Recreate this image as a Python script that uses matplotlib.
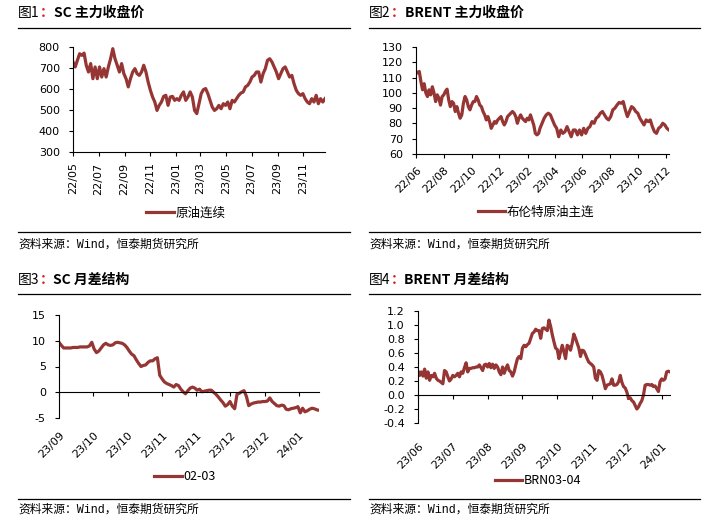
import numpy as np
import pandas as pd
import matplotlib
matplotlib.use('Agg')
import matplotlib.pyplot as plt
import matplotlib.dates as mdates
from matplotlib.lines import Line2D

plt.rcParams['font.family'] = ['DejaVu Sans', 'Noto Sans CJK SC']
plt.rcParams['axes.unicode_minus'] = False

W, H = 714, 521
LINE_COLOR = '#963634'
CJK = ['Noto Sans CJK SC', 'DejaVu Sans']
SRC_FONT = ['Liberation Mono', 'Noto Sans CJK SC']

# 图1 SC 主力收盘价 (原油连续), 2022/05 - 2023/12
sc_close = [729, 705, 737, 768, 760, 771, 713, 681, 721, 649, 705, 649, 705, 657, 697, 657,
            705, 744, 792, 744, 713, 681, 721, 673, 649, 610, 649, 681, 697, 673, 665, 681,
            713, 681, 633, 594, 562, 538, 498, 522, 538, 565, 570, 522, 562, 565, 546, 554,
            546, 570, 586, 546, 562,
            586, 562, 498, 483, 530, 578, 597, 602, 578, 546, 514, 498, 506, 522, 506, 530,
            522, 538, 506, 546, 538, 554, 570, 581, 586, 610, 617, 633, 657, 665, 681, 681,
            633, 673, 697, 737, 744, 729, 705, 681, 649, 673, 697, 705, 681, 657, 665, 625,
            594, 578, 570, 578, 554, 538, 530, 554, 538, 570, 530, 554, 538, 554]
sc_start, sc_end = '2022-05-01', '2023-12-23'

# 图2 BRENT 主力收盘价 (布伦特原油主连), 2022/06 - 2023/12
brent_a = [114, 113, 114, 107.5, 102, 106, 100, 97.6, 102, 98.7, 104, 100, 94.3, 98.7, 96.5,
           92, 97.6, 98.7, 101, 102.4, 95.4, 91, 94.3, 93.2, 87.8, 91, 86.7, 83.4, 85.6, 93.2,
           97.6, 95.4, 91, 88.9, 92, 94.3, 94.3, 97.6, 95.4, 92, 91, 87.8, 85.6, 82.3, 84.5,
           81.2, 76.8, 79, 81.2, 80.1, 82.3, 83.4, 84.5, 81.2, 79, 81.2, 84.5, 85.6, 86.7,
           87.8, 86.7, 84.5, 80.1, 83.4, 85.6, 83.4, 82.3, 81.2, 83.4, 82.3, 85.6, 82.3, 79,
           73.5, 72.5, 73.5]
brent_b = [76.8, 80.1, 83.4, 85.6, 86.7, 85.6, 82.3, 79, 76.8, 71.3, 75.7, 73.5, 74.6, 77.9,
           74.6, 71.3, 75.7, 75.7, 72.5, 75.7, 72.5, 76.8, 73.5, 76.8, 77.9, 81.2, 80.1, 83.4,
           84.5, 86.7, 87.8, 85.6, 83.4, 82.3, 84.5, 88.9, 90, 92, 93.7, 93.2, 94.3, 88.9,
           84.5, 87.8, 91, 90, 87.8, 86.7, 83.4, 81.2, 79, 82.3, 81.2, 82.3, 77.9, 74.6, 73.5,
           76.8, 77.9, 80.1, 79, 76.8, 75.7]
brent_a_span = ('2022-06-01', '2023-02-25')
brent_b_span = ('2023-02-28', '2023-12-08')

# 图3 SC 月差结构 (02-03)
sc_spread = [9.7, 9.1, 8.6, 8.6, 8.6, 8.6, 8.7, 8.7, 8.7, 8.8, 8.8, 8.8, 8.8, 9.0, 9.7, 8.4,
             7.7, 8.0, 8.6, 9.2, 9.5, 9.2, 9.1, 9.2, 9.6, 9.7, 9.6, 9.5, 9.2, 8.7, 8.0, 7.4,
             7.1, 6.3, 5.6, 5.0, 5.2, 5.3, 5.8, 6.1, 6.1, 6.5, 6.7, 3.3, 2.6, 2.0, 1.7, 1.5,
             1.3, 1.0, 1.5, 1.3, 0.6, 0.1,
             -0.3, 0.3, 0.8, 1.0, 0.8, 0.4, 0.6, 0.1, 0.2, 0.3, 0.4, 0.4, 0.0, -0.4, -0.9,
             -1.5, -2.0, -2.7, -2.4, -1.8, -2.7, -3.2, -0.4, -0.2, 0.1, 0.3, -0.8, -2.6, -2.3,
             -2.1, -2.0, -1.9, -1.9, -1.8, -1.8, -1.7, -1.1, -1.8, -2.2, -2.6, -2.7, -2.5,
             -2.6, -3.3, -3.4, -3.2, -3.1, -3.0, -2.8, -4.0, -3.1, -3.8, -3.6, -3.3, -3.1,
             -3.2, -3.4, -3.5]
sc_spread_ticks = ['23/09', '23/10', '23/10', '23/11', '23/11', '23/12', '23/12', '24/01']

# 图4 BRENT 月差结构 (BRN03-04)
brn_spread = [0.34, 0.28, 0.33, 0.27, 0.37, 0.24, 0.33, 0.21, 0.28, 0.26, 0.31, 0.24, 0.21,
              0.20, 0.18, 0.16, 0.35, 0.33, 0.26, 0.20, 0.23, 0.28, 0.26, 0.28, 0.31, 0.26,
              0.33, 0.31, 0.39, 0.46, 0.33, 0.38, 0.38, 0.39, 0.39, 0.40, 0.40, 0.43, 0.39,
              0.35, 0.43, 0.44, 0.40, 0.45, 0.39, 0.44, 0.38, 0.43, 0.40, 0.33, 0.29, 0.40,
              0.31, 0.38, 0.43, 0.35, 0.33, 0.27, 0.33, 0.43, 0.52, 0.55, 0.52, 0.67, 0.71,
              0.69, 0.72, 0.74, 0.81, 0.88, 0.90, 0.94, 0.92, 0.92, 0.81, 0.95, 0.96,
              0.94, 0.92, 1.07, 0.98, 0.86, 0.76, 0.67, 0.65, 0.52, 0.62, 0.71, 0.62, 0.52,
              0.71, 0.69, 0.64, 0.74, 0.87, 0.81, 0.74, 0.67, 0.55, 0.64, 0.63, 0.58, 0.52,
              0.47, 0.45, 0.43, 0.40, 0.24, 0.21, 0.35, 0.33, 0.28, 0.19, 0.09, 0.14, 0.15,
              0.16, 0.23, 0.14, 0.14, 0.15, 0.19, 0.28, 0.18, 0.12, 0.10, 0.04, -0.05, -0.04,
              -0.08, -0.10, -0.15, -0.20, -0.17, -0.12, -0.08, 0.00, 0.14, 0.15, 0.15, 0.14,
              0.15, 0.12, 0.13, 0.09, 0.05, 0.19, 0.23, 0.21, 0.23, 0.33, 0.34, 0.33]
brn_spread_ticks = ['23/06', '23/07', '23/08', '23/09', '23/10', '23/11', '23/12', '24/01']

fig = plt.figure(figsize=(W / 100, H / 100), dpi=100)
renderer = fig.canvas.get_renderer()


def px_axes(l, t, r, b):
    return fig.add_axes([l / W, 1 - b / H, (r - l) / W, (b - t) / H])


def style(ax):
    for s in ['top', 'right']:
        ax.spines[s].set_visible(False)
    for s in ['left', 'bottom']:
        ax.spines[s].set_linewidth(0.8)
    ax.tick_params(direction='out', length=3, width=0.8, labelsize=8, colors='black')
    ax.tick_params(axis='y', pad=6.5)


def hline(x0, x1, y):
    fig.add_artist(Line2D([x0 / W, x1 / W], [1 - y / H, 1 - y / H],
                          transform=fig.transFigure, color='black', lw=0.9))


def title(x, y, label, name):
    # 图N + red colon + bold name, laid out one after another
    xx = x / W
    for txt, c, w in [(label, 'black', 'normal'), ('：', '#D42020', 'bold'), (name, 'black', 'bold')]:
        t = fig.text(xx, 1 - y / H, txt, color=c, fontweight=w, fontsize=10,
                     family=CJK, va='center')
        xx = t.get_window_extent(renderer).x1 / W


def legend(ax, cx, cy):
    ax.legend(loc='center', bbox_to_anchor=(cx / W, 1 - cy / H), bbox_transform=fig.transFigure,
              frameon=False, prop={'family': CJK, 'size': 9}, handlelength=2.2,
              handletextpad=0.15, borderpad=0, borderaxespad=0)


def source(x, y):
    fig.text(x / W, 1 - y / H, '资料来源：Wind，恒泰期货研究所', family=SRC_FONT,
             fontsize=8.5, va='center')


# ---- panel 1
ax1 = px_axes(73, 47, 325, 152)
sc_dates = pd.date_range(sc_start, sc_end, periods=len(sc_close))
ax1.plot(sc_dates, sc_close, color=LINE_COLOR, lw=2.3, label='原油连续')
ax1.set_ylim(300, 800)
ax1.set_yticks(range(300, 801, 100))
ax1.set_xlim(pd.Timestamp(sc_start), sc_dates[-1])
ax1.xaxis.set_major_locator(mdates.MonthLocator(bymonth=[1, 3, 5, 7, 9, 11]))
ax1.xaxis.set_major_formatter(mdates.DateFormatter('%y/%m'))
style(ax1)
ax1.tick_params(axis='x', pad=4.5)
plt.setp(ax1.get_xticklabels(), rotation=90)
legend(ax1, 186, 213)

# ---- panel 2
ax2 = px_axes(416, 47, 669, 154)
brent_dates = pd.DatetimeIndex(list(pd.date_range(*brent_a_span, periods=len(brent_a))) +
                               list(pd.date_range(*brent_b_span, periods=len(brent_b))))
ax2.plot(brent_dates, brent_a + brent_b, color=LINE_COLOR, lw=2.3, label='布伦特原油主连')
ax2.set_ylim(60, 130)
ax2.set_yticks(range(60, 131, 10))
ax2.set_xlim(pd.Timestamp(brent_a_span[0]), brent_dates[-1])
ax2.xaxis.set_major_locator(mdates.MonthLocator(bymonth=[2, 4, 6, 8, 10, 12]))
ax2.xaxis.set_major_formatter(mdates.DateFormatter('%y/%m'))
style(ax2)
ax2.tick_params(axis='x', pad=5)
plt.setp(ax2.get_xticklabels(), rotation=45, ha='right', rotation_mode='anchor')
legend(ax2, 536, 212)

# ---- panel 3
ax3 = px_axes(59, 315, 319, 418)
x3 = np.arange(len(sc_spread))
ax3.plot(x3, sc_spread, color=LINE_COLOR, lw=2.3, label='02-03')
ax3.set_ylim(-5, 15)
ax3.set_yticks([-5, 0, 5, 10, 15])
ax3.set_xlim(0, len(sc_spread) - 1)
ax3.set_xticks(np.arange(len(sc_spread_ticks)) * 14.63, sc_spread_ticks)
ax3.spines['bottom'].set_position(('data', 0))
style(ax3)
ax3.tick_params(axis='x', pad=24)
plt.setp(ax3.get_xticklabels(), rotation=45, ha='right', rotation_mode='anchor')
legend(ax3, 185, 477)

# ---- panel 4
ax4 = px_axes(418, 311, 670, 423)
x4 = np.arange(len(brn_spread))
ax4.plot(x4, brn_spread, color=LINE_COLOR, lw=2.3, label='BRN03-04')
ax4.set_ylim(-0.4, 1.2)
ax4.set_yticks([-0.4, -0.2, 0.0, 0.2, 0.4, 0.6, 0.8, 1.0, 1.2])
ax4.set_yticklabels(['-0.4', '-0.2', '0.0', '0.2', '0.4', '0.6', '0.8', '1.0', '1.2'])
ax4.set_xlim(0, len(brn_spread) - 1)
ax4.set_xticks(np.arange(len(brn_spread_ticks)) * 21.0, brn_spread_ticks)
ax4.spines['bottom'].set_position(('data', 0))
style(ax4)
ax4.tick_params(axis='x', pad=30)
plt.setp(ax4.get_xticklabels(), rotation=45, ha='right', rotation_mode='anchor')
legend(ax4, 538, 481)

# ---- frames and texts
title(18, 13, '图1', 'SC 主力收盘价')
title(369, 13, '图2', 'BRENT 主力收盘价')
title(18, 280, '图3', 'SC 月差结构')
title(369, 280, '图4', 'BRENT 月差结构')
for y in (28, 232):
    hline(18, 350, y)
    hline(369, 700, y)
for y in (294, 499):
    hline(18, 350, y)
    hline(369, 700, y)
source(18, 245)
source(369, 245)
source(18, 510)
source(369, 510)

fig.savefig('out.png', dpi=100)
